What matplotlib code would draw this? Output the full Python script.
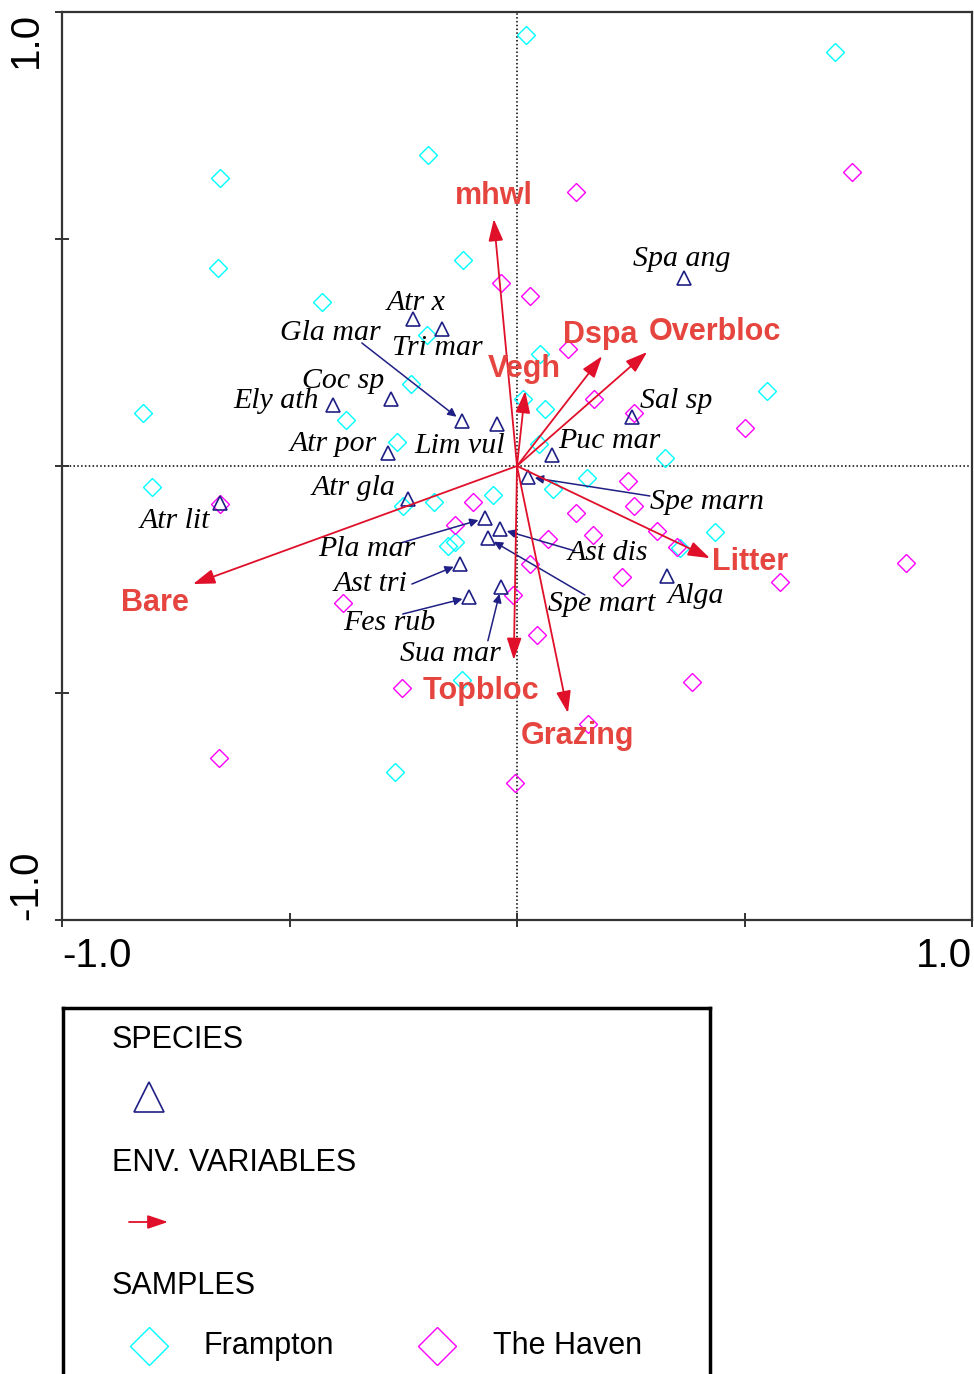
import matplotlib
matplotlib.use('Agg')
import matplotlib.pyplot as plt

# species scores (triangles)
species = ['Atr x', 'Tri mar', 'Gla mar', 'Coc sp', 'Ely ath', 'Atr por', 'Lim vul',
           'Spa ang', 'Sal sp', 'Puc mar', 'Atr lit', 'Atr gla', 'Pla mar', 'Ast tri',
           'Fes rub', 'Sua mar', 'Spe marn', 'Ast dis', 'Spe mart', 'Alga']
species_x = [-0.229, -0.165, -0.121, -0.277, -0.404, -0.284, -0.044,
             0.367, 0.253, 0.077, -0.653, -0.240, -0.070, -0.125,
             -0.105, -0.035, 0.024, -0.037, -0.064, 0.330]
species_y = [0.324, 0.302, 0.099, 0.148, 0.134, 0.029, 0.093,
             0.414, 0.108, 0.024, -0.081, -0.073, -0.115, -0.216,
             -0.289, -0.267, -0.024, -0.139, -0.159, -0.242]

# where the species names sit (left edge, middle)
label_x = [-0.286, -0.275, -0.521, -0.473, -0.624, -0.499, -0.226,
           0.255, 0.270, 0.090, -0.829, -0.451, -0.437, -0.404,
           -0.382, -0.257, 0.292, 0.112, 0.068, 0.332]
label_y = [0.359, 0.260, 0.293, 0.187, 0.143, 0.048, 0.044,
           0.456, 0.143, 0.055, -0.121, -0.048, -0.183, -0.260,
           -0.346, -0.414, -0.079, -0.192, -0.304, -0.286]

# leader lines from label to point
leaders = {'Gla mar': (-0.341, 0.271), 'Pla mar': (-0.257, -0.170),
           'Ast tri': (-0.231, -0.260), 'Fes rub': (-0.251, -0.326),
           'Sua mar': (-0.064, -0.385), 'Spe marn': (0.292, -0.066),
           'Ast dis': (0.127, -0.187), 'Spe mart': (0.149, -0.284)}

# environmental variables (arrows)
env = ['mhwl', 'Vegh', 'Dspa', 'Overbloc', 'Bare', 'Litter', 'Topbloc', 'Grazing']
env_x = [-0.051, 0.018, 0.187, 0.286, -0.712, 0.424, -0.007, 0.112]
env_y = [0.544, 0.165, 0.242, 0.251, -0.260, -0.203, -0.427, -0.544]
env_lx = [-0.051, 0.015, 0.182, 0.435, -0.796, 0.512, -0.079, 0.134]
env_ly = [0.595, 0.214, 0.289, 0.295, -0.302, -0.211, -0.496, -0.595]

# samples
frampton_x = [0.020, 0.699, -0.196, -0.653, -0.657, -0.119, -0.429, -0.198, 0.051, -0.233,
              -0.822, -0.376, -0.264, 0.013, 0.062, 0.549, 0.048, 0.325, -0.802, -0.251,
              -0.182, -0.053, -0.152, -0.136, 0.154, 0.079, 0.435, 0.358, -0.121, -0.268]
frampton_y = [0.949, 0.912, 0.685, 0.634, 0.436, 0.454, 0.361, 0.289, 0.247, 0.181,
              0.117, 0.101, 0.053, 0.148, 0.126, 0.165, 0.048, 0.018, -0.046, -0.088,
              -0.079, -0.064, -0.176, -0.167, -0.026, -0.051, -0.145, -0.181, -0.471, -0.674]
haven_x = [0.130, 0.736, -0.035, 0.029, 0.112, 0.169, 0.257, 0.501, -0.653, 0.244,
           0.257, 0.130, 0.167, 0.068, 0.308, 0.352, 0.029, 0.231, 0.578, 0.855,
           -0.009, 0.044, 0.385, 0.156, -0.004, -0.253, -0.382, -0.655, -0.097, -0.136]
haven_y = [0.604, 0.648, 0.403, 0.374, 0.258, 0.148, 0.117, 0.084, -0.084, -0.033,
           -0.088, -0.104, -0.152, -0.161, -0.143, -0.178, -0.216, -0.244, -0.256, -0.214,
           -0.284, -0.372, -0.476, -0.568, -0.698, -0.489, -0.302, -0.643, -0.079, -0.130]

navy = '#1f1f85'
arrow_red = '#e0102a'
label_red = '#e6453f'
head = '-|>,head_length=0.95,head_width=0.32'

fig = plt.figure(figsize=(9.74, 13.74), dpi=100)
ax = fig.add_axes([62/974, 1 - 920/1374, 910/974, 908/1374])
ax.set_xlim(-1, 1)
ax.set_ylim(-1, 1)

ax.axvline(0, color='black', lw=1.1, ls=(0, (1, 1.5)), zorder=1)
ax.axhline(0, color='black', lw=1.1, ls=(0, (1, 1.5)), zorder=1)

ax.plot(frampton_x, frampton_y, 'D', ms=9, mfc='none', mec='cyan', mew=1.0, zorder=2)
ax.plot(haven_x, haven_y, 'D', ms=9, mfc='none', mec='magenta', mew=1.0, zorder=2)

ax.plot(species_x, species_y, '^', ms=9.5, mfc='none', mec=navy, mew=1.2, zorder=3)
for i, name in enumerate(species):
    ax.text(label_x[i], label_y[i], name, family='Liberation Serif', style='italic',
            fontsize=21.5, ha='left', va='center', color='black', zorder=5)
    if name in leaders:
        ax.annotate('', xy=(species_x[i], species_y[i]), xytext=leaders[name],
                    arrowprops=dict(arrowstyle='-|>,head_length=0.5,head_width=0.25',
                                    color=navy, lw=1.1, mutation_scale=10,
                                    shrinkA=0, shrinkB=5), zorder=4)

for i, name in enumerate(env):
    ax.annotate('', xy=(env_x[i], env_y[i]), xytext=(0, 0),
                arrowprops=dict(arrowstyle=head, color=arrow_red, lw=1.3,
                                mutation_scale=14, shrinkA=0, shrinkB=0), zorder=6)
    ax.text(env_lx[i], env_ly[i], name, family='Liberation Sans', weight='bold',
            fontsize=22, ha='center', va='center', color=label_red, zorder=7)

for s in ax.spines.values():
    s.set_linewidth(1.6)
    s.set_color('#333333')

ax.set_xticks([-1, -0.5, 0, 0.5, 1])
ax.set_yticks([-1, -0.5, 0, 0.5, 1])
ax.set_xticklabels(['-1.0', '', '', '', '1.0'], family='Liberation Sans', fontsize=29)
ax.set_yticklabels(['-1.0', '', '', '', '1.0'], family='Liberation Sans', fontsize=29,
                   rotation=90)
ax.tick_params(direction='inout', length=10, width=1.4, color='#333333', pad=7)
xl = ax.get_xticklabels()
xl[0].set_ha('left')
xl[-1].set_ha('right')
yl = ax.get_yticklabels()
yl[0].set_va('bottom')
yl[-1].set_va('top')
for t in yl:
    t.set_ha('right')

# legend box drawn by hand
lax = fig.add_axes([63/974, 0, (710 - 63)/974, 1 - 1008/1374])
lax.set_xlim(63, 710)
lax.set_ylim(1374, 1008)
lax.set_xticks([])
lax.set_yticks([])
lax.spines['bottom'].set_visible(False)
for k in ['top', 'left', 'right']:
    lax.spines[k].set_linewidth(2.5)
    lax.spines[k].set_color('black')

lfont = dict(family='Liberation Sans', fontsize=22, va='center', ha='left', color='black')
lax.text(112, 1040, 'SPECIES', **lfont)
lax.plot([149], [1097], '^', ms=22, mfc='none', mec=navy, mew=1.2)
lax.text(112, 1163, 'ENV. VARIABLES', **lfont)
lax.annotate('', xy=(168, 1222), xytext=(129, 1222),
             arrowprops=dict(arrowstyle=head, color=arrow_red, lw=1.3,
                             mutation_scale=13, shrinkA=0, shrinkB=0))
lax.text(112, 1286, 'SAMPLES', **lfont)
lax.plot([149], [1346], 'D', ms=19, mfc='none', mec='cyan', mew=1.0)
lax.text(203, 1346, 'Frampton', **lfont)
lax.plot([437], [1346], 'D', ms=19, mfc='none', mec='magenta', mew=1.0)
lax.text(493, 1346, 'The Haven', **lfont)

fig.savefig('out.png', dpi=100)
